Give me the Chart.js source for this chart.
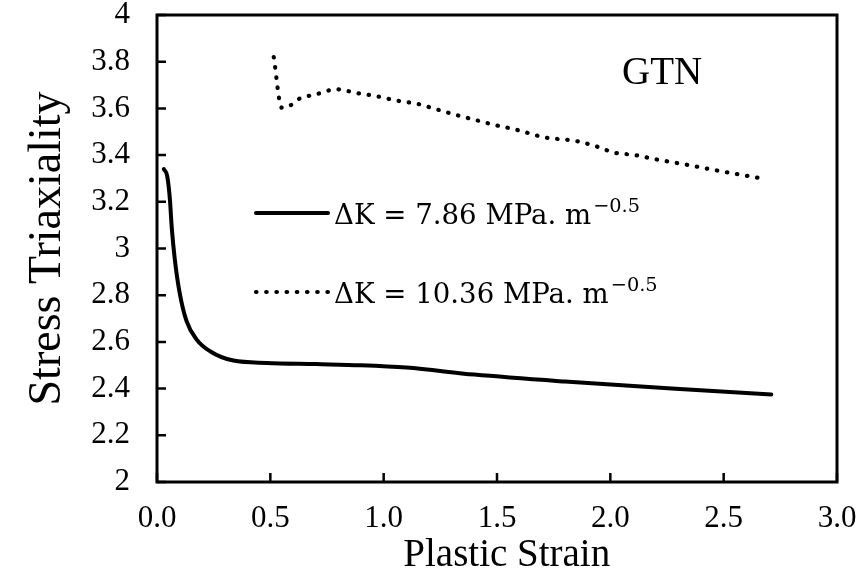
<!DOCTYPE html>
<html lang="en">
<head>
  <meta charset="UTF-8">
  <title>Stress Triaxiality vs Plastic Strain</title>
  <style>
    * { margin: 0; padding: 0; box-sizing: border-box; }
    body { background: #ffffff; width: 859px; height: 577px; overflow: hidden; }
    .wrap { position: relative; width: 859px; height: 577px; }
  </style>
  <script src="https://cdn.jsdelivr.net/npm/chart.js@4.4.1/dist/chart.umd.min.js"></script>
</head>
<body>
  <div class="wrap"><canvas id="triaxChart" width="859" height="577"></canvas></div>

  <script>
    // series
    const strainLow = [0.03, 0.045, 0.057, 0.065, 0.079, 0.10, 0.13, 0.175, 0.234, 0.337, 0.484, 0.70, 0.90, 1.10, 1.40, 1.80, 2.27, 2.71];
    const triaxLow  = [3.34, 3.31, 3.21, 3.09, 2.95, 2.81, 2.69, 2.61, 2.56, 2.52, 2.51, 2.505, 2.50, 2.49, 2.46, 2.43, 2.40, 2.375];

    const strainHigh = [0.515, 0.55, 0.587, 0.623, 0.70, 0.793, 0.88, 0.97, 1.06, 1.147, 1.234, 1.32, 1.407, 1.495, 1.58, 1.71, 1.85, 1.93, 2.02, 2.11, 2.195, 2.33, 2.46, 2.68];
    const triaxHigh  = [3.82, 3.603, 3.612, 3.639, 3.66, 3.682, 3.666, 3.652, 3.633, 3.62, 3.596, 3.572, 3.55, 3.528, 3.51, 3.476, 3.46, 3.44, 3.41, 3.40, 3.383, 3.36, 3.336, 3.298];

    const seriesNames = ['ΔK = 7.86 MPa. m', 'ΔK = 10.36 MPa. m'];
    const seriesExp = '−0.5';
    const panelLabel = 'GTN';

    const serif = "'Liberation Serif', 'Times New Roman', serif";
    const mathFont = "'DejaVu Serif', serif";

    const toPoints = (xs, ys) => xs.map((v, i) => ({ x: v, y: ys[i] }));

    // box frame, inward ticks, key and panel label
    const decor = {
      id: 'decor',
      afterDraw(chart) {
        const { ctx, chartArea: a, scales: { x, y } } = chart;
        ctx.save();
        ctx.strokeStyle = '#000';
        ctx.lineWidth = 3;
        ctx.strokeRect(a.left, a.top, a.right - a.left, a.bottom - a.top);

        ctx.lineWidth = 2.5;
        ctx.beginPath();
        x.ticks.forEach(t => {
          const px = x.getPixelForValue(t.value);
          ctx.moveTo(px, a.bottom);
          ctx.lineTo(px, a.bottom - 9);
        });
        y.ticks.forEach(t => {
          const py = y.getPixelForValue(t.value);
          ctx.moveTo(a.left, py);
          ctx.lineTo(a.left + 9, py);
        });
        ctx.stroke();

        // key
        const rows = [
          { ds: chart.data.datasets[0], yy: 213, text: seriesNames[0] },
          { ds: chart.data.datasets[1], yy: 292, text: seriesNames[1] }
        ];
        // fit the first row to the width it takes in the figure
        ctx.font = '30px ' + mathFont;
        const w0 = ctx.measureText(rows[0].text).width;
        ctx.font = '21px ' + mathFont;
        const e0 = ctx.measureText(seriesExp).width;
        const size = 30 * 306 / (w0 + e0 + 2);

        rows.forEach(r => {
          ctx.save();
          ctx.strokeStyle = '#000';
          ctx.lineWidth = r.ds.borderWidth;
          ctx.lineCap = r.ds.borderCapStyle || 'butt';
          ctx.setLineDash(r.ds.borderDash || []);
          ctx.beginPath();
          ctx.moveTo(256, r.yy);
          ctx.lineTo(328, r.yy);
          ctx.stroke();
          ctx.restore();

          ctx.fillStyle = '#000';
          ctx.textAlign = 'left';
          ctx.textBaseline = 'alphabetic';
          ctx.font = size + 'px ' + mathFont;
          ctx.fillText(r.text, 334, r.yy + 11);
          const w = ctx.measureText(r.text).width;
          ctx.font = (size * 0.7) + 'px ' + mathFont;
          ctx.fillText(seriesExp, 334 + w + 2, r.yy + 11 - size * 0.42);
        });

        ctx.font = '39px ' + serif;
        ctx.fillText(panelLabel, 622, 84);
        ctx.restore();
      }
    };

    const ctx = document.getElementById('triaxChart').getContext('2d');
    new Chart(ctx, {
      type: 'line',
      data: {
        datasets: [
          {
            label: seriesNames[0],
            data: toPoints(strainLow, triaxLow),
            borderColor: '#000',
            borderWidth: 4,
            borderCapStyle: 'round',
            pointRadius: 0,
            cubicInterpolationMode: 'monotone',
            fill: false
          },
          {
            label: seriesNames[1],
            data: toPoints(strainHigh, triaxHigh),
            borderColor: '#000',
            borderWidth: 4.2,
            borderCapStyle: 'round',
            borderDash: [0.5, 9.7],
            pointRadius: 0,
            cubicInterpolationMode: 'monotone',
            fill: false
          }
        ]
      },
      options: {
        responsive: false,
        animation: false,
        layout: { padding: { top: 15, right: 22, left: 0, bottom: 0 } },
        plugins: { legend: { display: false }, tooltip: { enabled: false } },
        scales: {
          x: {
            type: 'linear',
            min: 0, max: 3,
            afterFit: s => { s.height = 95; },
            grid: { display: false, drawTicks: true, tickLength: 21 },
            border: { display: false },
            ticks: {
              stepSize: 0.5,
              color: '#000',
              padding: 0,
              maxRotation: 0,
              font: { family: serif, size: 31, lineHeight: 1 },
              callback: v => Number(v).toFixed(1)
            },
            title: {
              display: true,
              text: '  Plastic Strain',
              color: '#000',
              font: { family: serif, size: 39, lineHeight: 1 },
              padding: { top: 0, bottom: 2 }
            }
          },
          y: {
            min: 2, max: 4,
            afterFit: s => { s.width = 157; },
            grid: { display: false, drawTicks: true, tickLength: 27 },
            border: { display: false },
            ticks: {
              stepSize: 0.2,
              color: '#000',
              padding: 0,
              font: { family: serif, size: 31, lineHeight: 0.9 },
              callback: v => String(+Number(v).toFixed(1))
            },
            title: {
              display: true,
              text: 'Stress Triaxiality',
              color: '#000',
              font: { family: serif, size: 46, lineHeight: 1 },
              padding: { top: 25, bottom: 0 }
            }
          }
        }
      },
      plugins: [decor]
    });
  </script>
</body>
</html>
